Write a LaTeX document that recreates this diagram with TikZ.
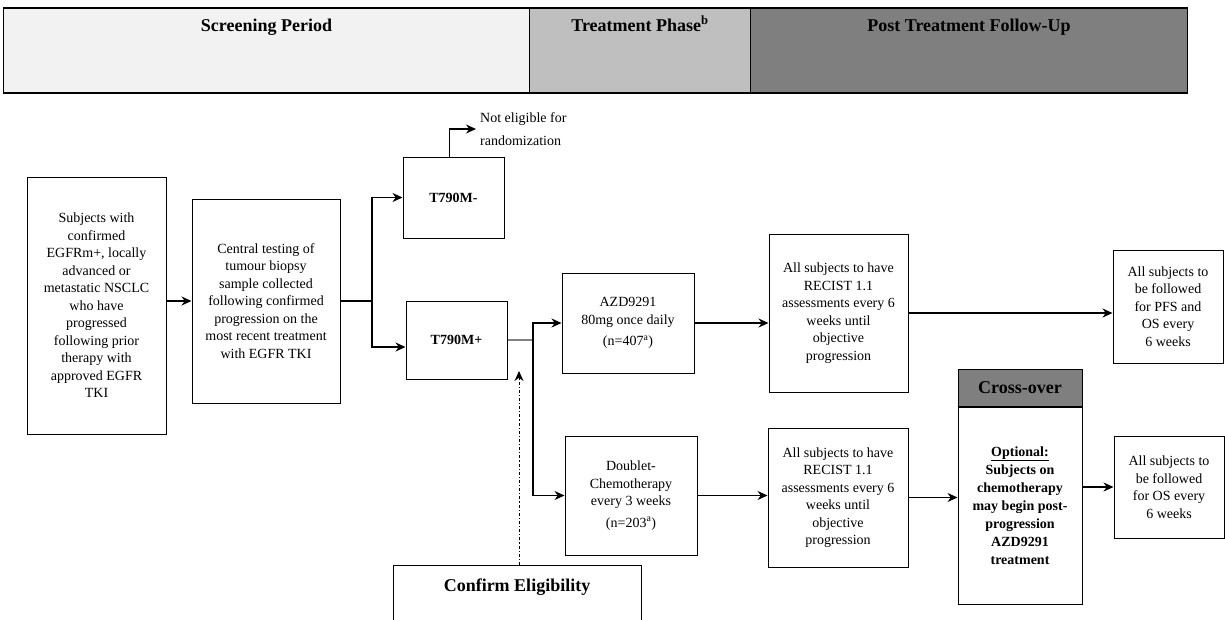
\documentclass[tikz,border=0pt]{standalone}
\usepackage{fontspec}
\setmainfont{Liberation Serif}
\usepackage{xcolor}
\usepackage{tikz}
\usetikzlibrary{shapes.geometric, positioning, arrows.meta}
\definecolor{screengray}{HTML}{F2F2F2}
\definecolor{treatgray}{HTML}{BFBFBF}
\definecolor{postgray}{HTML}{7F7F7F}
\tikzstyle{process} = [rectangle, draw=black, line width=1pt, text centered, align=center, inner sep=2pt, font=\fontsize{14}{17.5}\selectfont]
\tikzstyle{phase} = [rectangle, draw=black, line width=1pt, anchor=north west, minimum height=84pt]
\tikzstyle{phasetitle} = [font=\bfseries\fontsize{18}{21}\selectfont, text height=13pt, text depth=4pt, inner sep=2pt]
\tikzstyle{connector} = [-{Stealth[length=10pt, width=9pt]}, line width=1.2pt]

\begin{document}
\begin{tikzpicture}[x=1pt, y=-1pt]
		\useasboundingbox (0,0) rectangle (1225,619);
		% phase band
		\node (Screening)[phase, fill=screengray, minimum width=526pt] at (3,8) {};
		\node (Treatment)[phase, fill=treatgray, minimum width=221pt] at (529,8) {};
		\node (Post)[phase, fill=postgray, minimum width=437pt] at (750,8) {};
		\draw [line width=2pt] (Screening.north west) -- (Post.north east);
		\draw [line width=2pt] (Screening.south west) -- (Post.south east);
		\node [phasetitle, below=8pt of Screening.north] {Screening Period};
		\node [phasetitle, below=8pt of Treatment.north] {Treatment Phase\textsuperscript{b}};
		\node [phasetitle, below=8pt of Post.north] {Post Treatment Follow-Up};
		% screening
		\node (Subjects)[process, minimum width=139pt, minimum height=257pt] at (96.5,305.5) {Subjects with\\confirmed\\EGFRm+, locally\\advanced or\\metastatic NSCLC\\who have\\progressed\\following prior\\therapy with\\approved EGFR\\TKI};
		\node (Central)[process, minimum width=148pt, minimum height=204pt] at (266,301) {Central testing of\\tumour biopsy\\sample collected\\following confirmed\\progression on the\\most recent treatment\\with EGFR TKI};
		\node (TMinus)[process, minimum width=101pt, minimum height=81pt, font=\bfseries\fontsize{14}{17}\selectfont] at (453.5,197.5) {T790M-};
		\node (TPlus)[process, minimum width=101pt, minimum height=78pt, font=\bfseries\fontsize{14}{17}\selectfont] at (456.5,340) {T790M+};
		\node (NotEligible)[anchor=west, align=left, inner sep=4pt, font=\fontsize{14}{23}\selectfont] at (476,129) {Not eligible for\\randomization};
		\node (Confirm)[process, anchor=north, minimum width=248pt, text height=24pt, text depth=36pt, font=\bfseries\fontsize{18}{21}\selectfont] at (517,565) {Confirm Eligibility};
		% treatment
		\node (AZD)[process, minimum width=132pt, minimum height=100pt] at (628,323) {AZD9291\\80mg once daily\\[4pt](n=407\textsuperscript{a})};
		\node (Doublet)[process, minimum width=132pt, minimum height=119pt] at (631,495.5) {Doublet-\\Chemotherapy\\every 3 weeks\\[4pt](n=203\textsuperscript{a})};
		% follow-up
		\node (RecistA)[process, minimum width=139pt, minimum height=158pt] at (838.5,313) {All subjects to have\\RECIST 1.1\\assessments every 6\\weeks until\\objective\\progression};
		\node (RecistB)[process, minimum width=140pt, minimum height=139pt] at (838,497.5) {All subjects to have\\RECIST 1.1\\assessments every 6\\weeks until\\objective\\progression};
		\node (PFS)[process, minimum width=110pt, minimum height=113pt] at (1168,306.5) {All subjects to\\be followed\\for PFS and\\OS every\\6 weeks};
		\node (OS)[process, minimum width=110pt, minimum height=102pt] at (1169,487) {All subjects to\\be followed\\for OS every\\6 weeks};
		\node (CrossHead)[process, fill=postgray, minimum width=124pt, minimum height=37pt, font=\bfseries\fontsize{18}{21}\selectfont] at (1020,387.5) {Cross-over};
		\node (Cross)[process, anchor=north, minimum width=124pt, minimum height=197pt, font=\bfseries\fontsize{14}{18}\selectfont] at (CrossHead.south) {\underline{Optional:}\\Subjects on\\chemotherapy\\may begin post-\\progression\\AZD9291\\treatment};
		% connectors
		\coordinate (Fork) at (372,301);
		\coordinate (Split) at (533,340);
		\coordinate (Elig) at (519,371);
		\draw [connector] (Subjects.east |- Central.west) -- (Central.west);
		\draw [line width=1.2pt] (Central.east) -- (Fork);
		\draw [connector] (Fork) |- (TMinus.west);
		\draw [connector] (Fork) |- ([yshift=-7pt]TPlus.west);
		\draw [connector] ([xshift=-4pt]TMinus.north) |- (NotEligible.west);
		\draw [gray, line width=1.6pt] (TPlus.east) -- (Split);
		\draw [connector] (Split) |- (AZD.west);
		\draw [connector] (Split) |- (Doublet.west);
		\draw [connector, dash dot, line width=1pt] ([xshift=2pt]Confirm.north) -- (Elig);
		\draw [connector] (AZD.east) -- (AZD.east -| RecistA.west);
		\draw [connector] (RecistA.east) -- (RecistA.east -| PFS.west);
		\draw [connector] (Doublet.east) -- (Doublet.east -| RecistB.west);
		\draw [connector] (RecistB.east) -- (RecistB.east -| Cross.west);
		\draw [connector] (OS.west -| Cross.east) -- (OS.west);
	\end{tikzpicture}
\end{document}
